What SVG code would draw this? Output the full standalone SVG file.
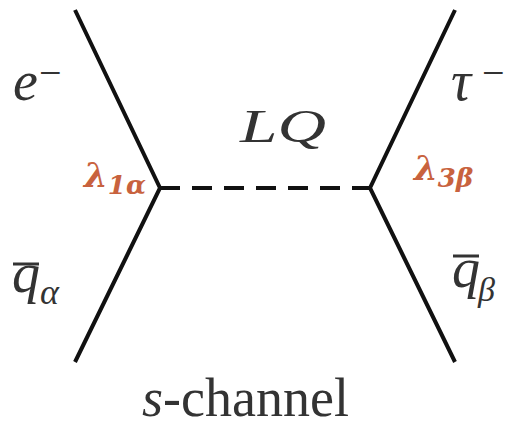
<svg xmlns="http://www.w3.org/2000/svg" width="506" height="427" viewBox="0 0 506 427">
<style>
.ln{stroke:#111;stroke-width:4;fill:none}
.ds{stroke:#111;stroke-width:4;fill:none;stroke-dasharray:20 12}
.bar{stroke:#333;stroke-width:3}
</style>
<rect width="506" height="427" fill="#fff"/>
<g id="connectors">
<polyline class="ln" points="75,10 160,188 75,362"/>
<polyline class="ln" points="455,10 370,188 455,362"/>
<line class="ds" x1="160" y1="188" x2="370" y2="188"/>
</g>
<g id="e-minus"><text fill="#333" font-family="Liberation Serif" font-style="italic" x="13" y="100" font-size="56">e</text><text fill="#333" font-family="Liberation Serif" x="39" y="86" font-size="40">−</text></g>
<g id="tau-minus"><text fill="#333" font-family="Liberation Serif" font-style="italic" x="451" y="100" font-size="56">τ</text><text fill="#333" font-family="Liberation Serif" x="482" y="86" font-size="40">−</text></g>
<g id="LQ"><text fill="#333" font-family="Liberation Serif" font-style="italic" x="240" y="142" font-size="46" textLength="86" lengthAdjust="spacingAndGlyphs">LQ</text></g>
<g id="qbar-alpha"><text fill="#333" font-family="Liberation Serif" font-style="italic" x="12" y="292" font-size="56">q</text><line class="bar" x1="13" y1="264" x2="39" y2="264"/><text fill="#333" font-family="Liberation Serif" font-style="italic" x="40" y="304" font-size="36">α</text></g>
<g id="qbar-beta"><text fill="#333" font-family="Liberation Serif" font-style="italic" x="452" y="287" font-size="56">q</text><line class="bar" x1="453" y1="256" x2="479" y2="256"/><text fill="#333" font-family="Liberation Serif" font-style="italic" x="478" y="301" font-size="34">β</text></g>
<g id="s-channel"><text fill="#333" font-family="Liberation Serif" x="142" y="416" font-size="54"><tspan font-style="italic">s</tspan>-channel</text></g>
<g id="lambda-1a"><text fill="#c8623e" font-family="DejaVu Serif" font-style="italic" font-weight="bold" x="84" y="187" font-size="34">λ<tspan font-size="26" dy="7">1α</tspan></text></g>
<g id="lambda-3b"><text fill="#c8623e" font-family="DejaVu Serif" font-style="italic" font-weight="bold" x="414" y="180" font-size="34">λ<tspan font-size="26" dy="7">3β</tspan></text></g>
</svg>
